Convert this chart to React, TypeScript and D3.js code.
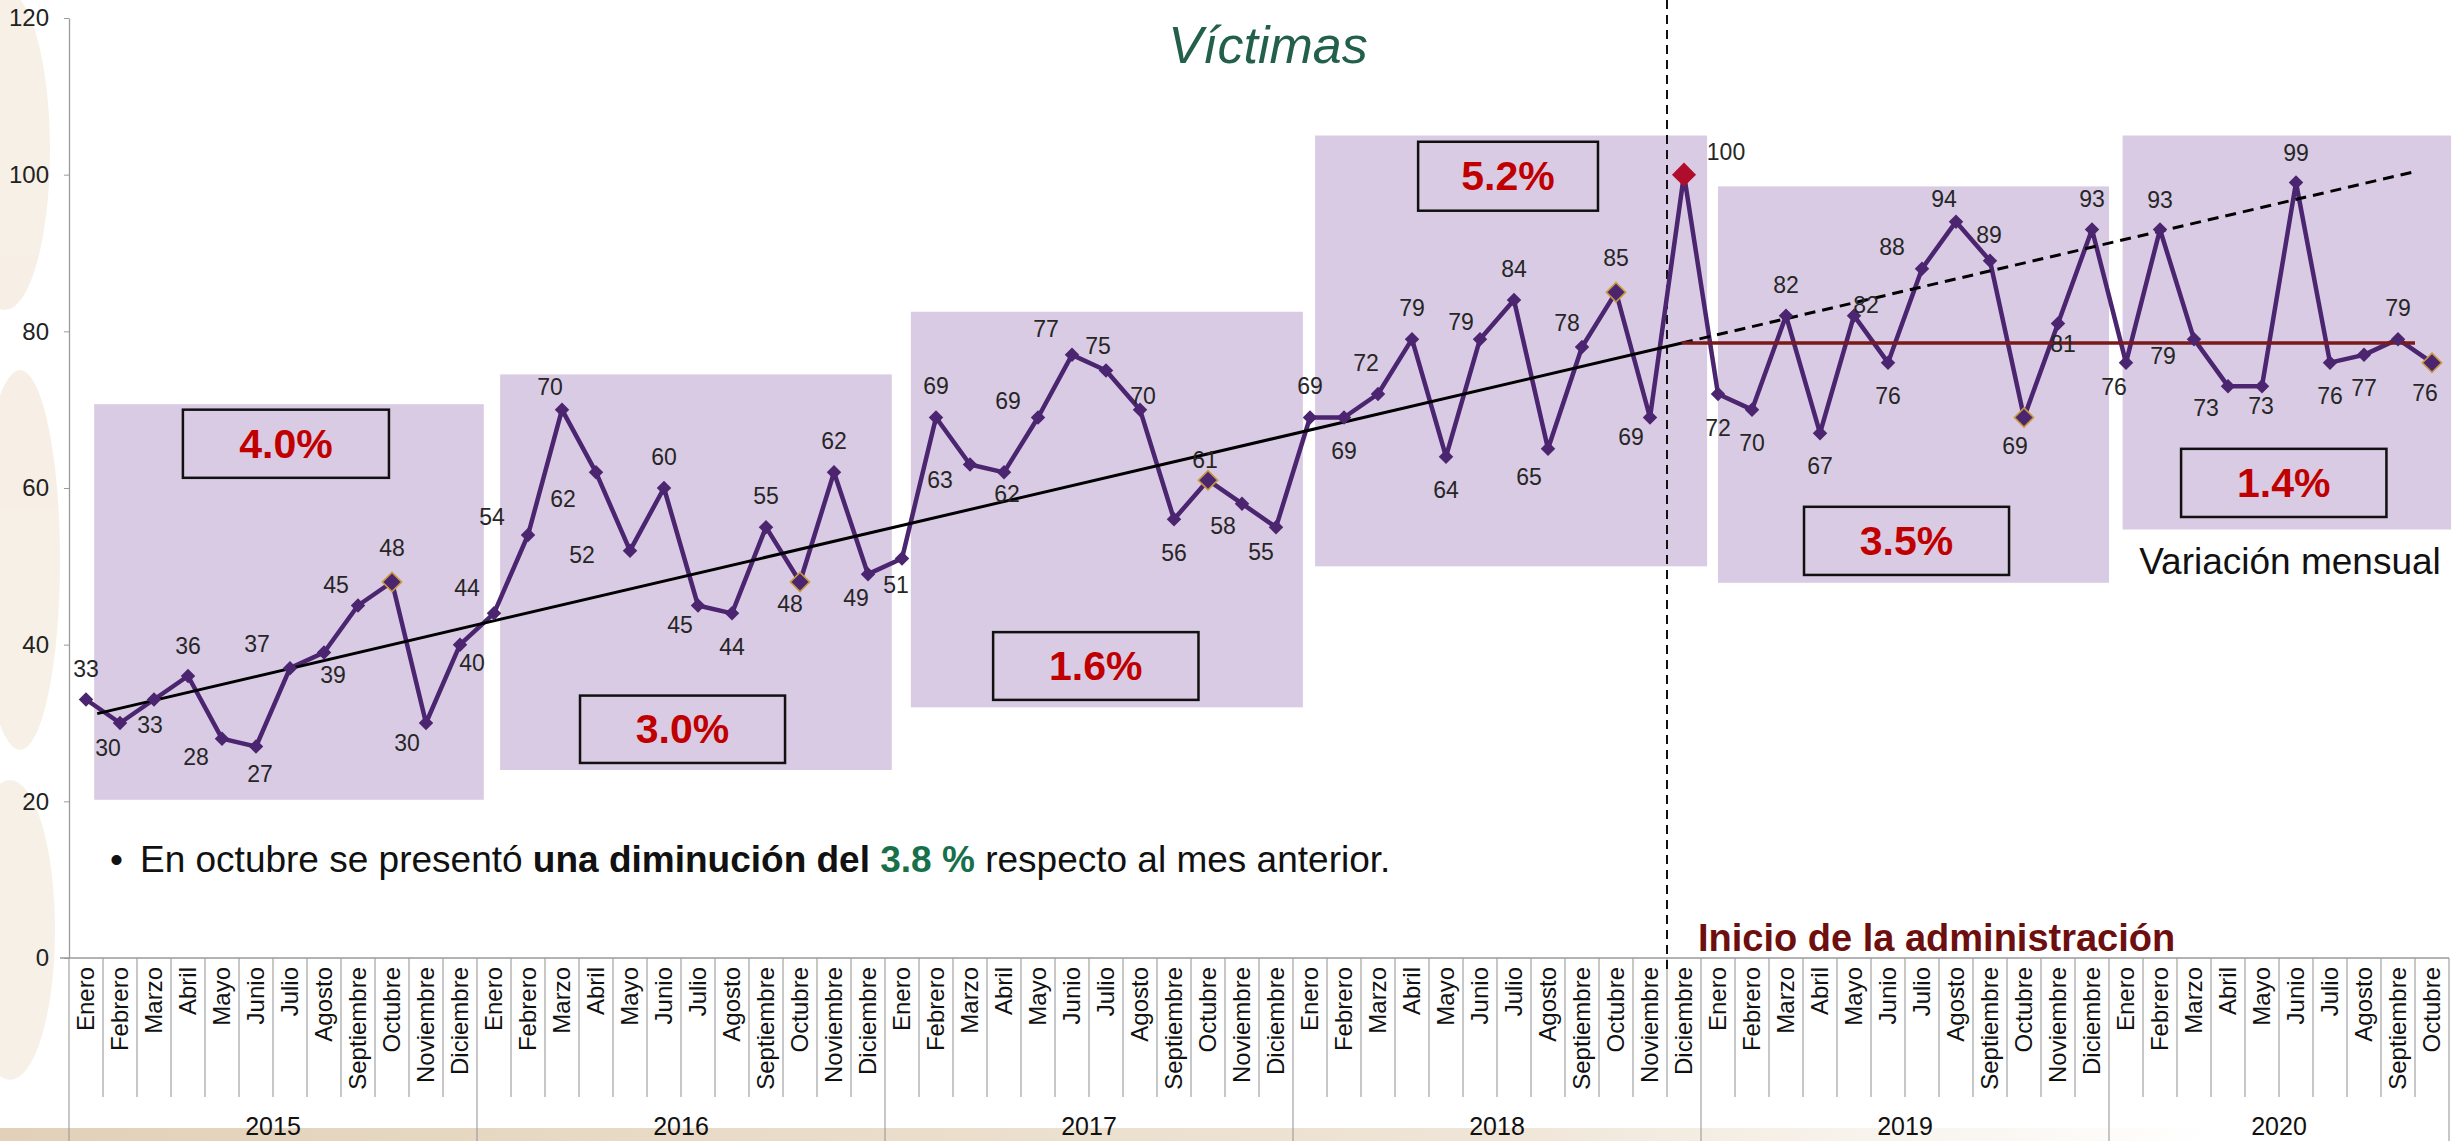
import React, { useEffect, useRef } from 'react';
import * as d3 from 'd3';

const W = 2458;
const H = 1141;
const FONT = 'Liberation Sans, Arial, sans-serif';

const months = ['Enero', 'Febrero', 'Marzo', 'Abril', 'Mayo', 'Junio', 'Julio', 'Agosto', 'Septiembre', 'Octubre', 'Noviembre', 'Diciembre'];
const years = ['2015', '2016', '2017', '2018', '2019', '2020'];

// víctimas por mes
const v2015 = [33, 30, 33, 36, 28, 27, 37, 39, 45, 48, 30, 40];
const v2016 = [44, 54, 70, 62, 52, 60, 45, 44, 55, 48, 62, 49];
const v2017 = [51, 69, 63, 62, 69, 77, 75, 70, 56, 61, 58, 55];
const v2018 = [69, 69, 72, 79, 64, 79, 84, 65, 78, 85, 69, 100];
const v2019 = [72, 70, 82, 67, 82, 76, 88, 94, 89, 69, 81, 93];
const v2020 = [76, 93, 79, 73, 73, 99, 76, 77, 79, 76];
const byYear = [v2015, v2016, v2017, v2018, v2019, v2020];

const yTicks = [0, 20, 40, 60, 80, 100, 120];

// shaded panels behind each year (month position / value units)
const panels = [
  { from: 0.74, to: 12.2, low: 20.2, high: 70.7 },
  { from: 12.68, to: 24.2, low: 24, high: 74.5 },
  { from: 24.76, to: 36.29, low: 32, high: 82.5 },
  { from: 36.65, to: 48.18, low: 50, high: 105 },
  { from: 48.5, to: 60.0, low: 47.9, high: 98.5 },
  { from: 60.4, to: 70.06, low: 54.7, high: 105 },
];

// variación mensual promedio por año
const growth = [
  { text: '4.0%', from: 3.35, to: 9.41, low: 61.3, high: 70.0 },
  { text: '3.0%', from: 15.03, to: 21.06, low: 24.9, high: 33.5 },
  { text: '1.6%', from: 27.18, to: 33.22, low: 32.95, high: 41.6 },
  { text: '5.2%', from: 39.68, to: 44.97, low: 95.4, high: 104.2 },
  { text: '3.5%', from: 51.03, to: 57.06, low: 48.9, high: 57.6 },
  { text: '1.4%', from: 62.12, to: 68.16, low: 56.3, high: 65.0 },
];

// trend (month index units)
const trendStart = 0.33;
const trendBase = 31.2;
const trendSlope = 1.015;
const adminIndex = 46.94;
const trendEnd = 68.5;
const adminBoundary = 47; // month position of the vertical dashed line

// where each value label sits relative to its point [dx, dy]
const labelNudge = [
  [0, -31], [-12, 25], [-4, 25], [0, -30], [-26, 18], [4, 27], [-33, -24], [9, 22], [-22, -21], [0, -34], [-19, 20], [12, 18],
  [-27, -25], [-36, -18], [-12, -23], [-33, 27], [-48, 4], [0, -31], [-18, 19], [0, 34], [0, -31], [-10, 22], [0, -31], [-12, 24],
  [-6, 26], [0, -32], [-30, 15], [3, 22], [-30, -17], [-26, -26], [-8, -25], [3, -14], [0, 34], [-3, -20], [-19, 22], [-15, 25],
  [0, -32], [0, 33], [-12, -31], [0, -31], [0, 33], [-19, -17], [0, -31], [-19, 28], [-15, -24], [0, -34], [-19, 19], [42, -23],
  [0, 34], [0, 33], [0, -31], [0, 33], [12, -11], [0, 33], [-30, -22], [-12, -23], [-1, -26], [-9, 28], [5, 20], [0, -31],
  [-12, 24], [0, -30], [-31, 17], [-22, 22], [-1, 20], [0, -30], [0, 33], [0, 33], [0, -31], [-7, 30],
];

const PURPLE = '#4b256f';

export default function App() {
  const ref = useRef<SVGSVGElement>(null);

  useEffect(() => {
    const svg = d3.select(ref.current);
    svg.selectAll('*').remove();

    const data = byYear.flatMap((vals, yi) =>
      vals.map((v, mi) => ({ year: years[yi], month: months[mi], value: v }))
    );
    const n = data.length;

    const xPos = d3.scaleLinear().domain([0, n]).range([69, 2449]);
    const cx = (i: number) => xPos(i + 0.5);
    const y = d3.scaleLinear().domain([0, 120]).range([958, 18]);

    svg.append('rect').attr('width', W).attr('height', H).attr('fill', '#ffffff');

    // faint watermark on the left edge + bottom band
    const wm = svg.append('g').attr('fill', '#f3e8d8').attr('opacity', 0.65);
    wm.append('ellipse').attr('cx', 5).attr('cy', 150).attr('rx', 45).attr('ry', 160);
    wm.append('ellipse').attr('cx', 20).attr('cy', 560).attr('rx', 40).attr('ry', 190);
    wm.append('ellipse').attr('cx', 10).attr('cy', 930).attr('rx', 45).attr('ry', 150);
    const defs = svg.append('defs');
    const grad = defs.append('linearGradient').attr('id', 'band');
    grad.append('stop').attr('offset', '0%').attr('stop-color', '#e2d1b8');
    grad.append('stop').attr('offset', '60%').attr('stop-color', '#efe5d6');
    grad.append('stop').attr('offset', '90%').attr('stop-color', '#ffffff');
    svg.append('rect').attr('x', 0).attr('y', 1128).attr('width', W).attr('height', 13).attr('fill', 'url(#band)');

    // year panels
    svg.append('g').selectAll('rect').data(panels).enter().append('rect')
      .attr('x', d => xPos(d.from))
      .attr('y', d => y(d.high))
      .attr('width', d => xPos(d.to) - xPos(d.from))
      .attr('height', d => y(d.low) - y(d.high))
      .attr('fill', '#dacbe4');

    // y axis
    const ya = svg.append('g')
      .attr('transform', `translate(${xPos(0)},0)`)
      .call(d3.axisLeft(y).tickValues(yTicks).tickSize(5).tickSizeOuter(0).tickPadding(15));
    ya.select('.domain').attr('stroke', '#9a9a9a').attr('stroke-width', 1.3);
    ya.selectAll('.tick line').attr('stroke', '#9a9a9a');
    ya.selectAll('.tick text').attr('font-family', FONT).attr('font-size', 24).attr('fill', '#222');

    // category axis
    const ax = svg.append('g');
    ax.append('line').attr('x1', 60).attr('x2', xPos(n)).attr('y1', y(0)).attr('y2', y(0))
      .attr('stroke', '#9a9a9a').attr('stroke-width', 1.3);
    ax.selectAll('.sep').data(d3.range(n + 1)).enter().append('line')
      .attr('x1', k => xPos(k)).attr('x2', k => xPos(k))
      .attr('y1', y(0))
      .attr('y2', k => (k % 12 === 0 || k === n ? H : 1097))
      .attr('stroke', '#9a9a9a').attr('stroke-width', 1.1);
    ax.selectAll('.mlab').data(data).enter().append('text')
      .attr('transform', (d, i) => `translate(${cx(i) + 8},967) rotate(-90)`)
      .attr('text-anchor', 'end')
      .attr('font-family', FONT).attr('font-size', 24).attr('fill', '#111')
      .text(d => d.month);
    ax.selectAll('.ylab').data(years).enter().append('text')
      .attr('x', (d, k) => xPos(12 * k + byYear[k].length / 2))
      .attr('y', 1135)
      .attr('text-anchor', 'middle')
      .attr('font-family', FONT).attr('font-size', 25).attr('fill', '#111')
      .text(d => d);

    // administration start
    svg.append('line')
      .attr('x1', xPos(adminBoundary)).attr('x2', xPos(adminBoundary))
      .attr('y1', 0).attr('y2', 975)
      .attr('stroke', '#111').attr('stroke-width', 2).attr('stroke-dasharray', '9,6');

    // series
    const line = d3.line<{ value: number }>().x((d, i) => cx(i)).y(d => y(d.value));
    svg.append('path').datum(data).attr('d', line)
      .attr('fill', 'none').attr('stroke', PURPLE).attr('stroke-width', 4.5).attr('stroke-linejoin', 'round');

    // trend lines
    const trend = (i: number) => trendBase + trendSlope * (i - trendStart);
    svg.append('line')
      .attr('x1', cx(trendStart)).attr('y1', y(trend(trendStart)))
      .attr('x2', cx(adminIndex)).attr('y2', y(trend(adminIndex)))
      .attr('stroke', '#000').attr('stroke-width', 3);
    svg.append('line')
      .attr('x1', cx(adminIndex)).attr('y1', y(trend(adminIndex)))
      .attr('x2', cx(trendEnd)).attr('y2', y(trend(trendEnd)))
      .attr('stroke', '#000').attr('stroke-width', 3).attr('stroke-dasharray', '11,7');
    svg.append('line')
      .attr('x1', cx(adminIndex)).attr('y1', y(trend(adminIndex)))
      .attr('x2', cx(trendEnd)).attr('y2', y(trend(adminIndex)))
      .attr('stroke', '#7a1a1a').attr('stroke-width', 3.5);

    // markers
    const isOct = (d: { month: string }) => d.month === 'Octubre';
    const isPeak = (i: number) => i === n - 23; // Diciembre 2018
    svg.append('g').selectAll('path').data(data).enter().append('path')
      .attr('transform', (d, i) => `translate(${cx(i)},${y(d.value)}) rotate(45)`)
      .attr('d', (d, i) => d3.symbol(d3.symbolSquare, isPeak(i) ? 290 : isOct(d) ? 185 : 105)())
      .attr('fill', (d, i) => (isPeak(i) ? '#b00d2d' : PURPLE))
      .attr('stroke', (d, i) => (!isPeak(i) && isOct(d) ? '#c99a3c' : 'none'))
      .attr('stroke-width', 1.6);

    // value labels
    svg.append('g').selectAll('text').data(data).enter().append('text')
      .attr('x', (d, i) => cx(i) + labelNudge[i][0])
      .attr('y', (d, i) => y(d.value) + labelNudge[i][1] + 8)
      .attr('text-anchor', 'middle')
      .attr('font-family', FONT).attr('font-size', 23).attr('fill', '#262626')
      .text(d => d.value);

    // growth boxes
    const gb = svg.append('g').selectAll('g').data(growth).enter().append('g');
    gb.append('rect')
      .attr('x', d => xPos(d.from)).attr('y', d => y(d.high))
      .attr('width', d => xPos(d.to) - xPos(d.from))
      .attr('height', d => y(d.low) - y(d.high))
      .attr('fill', 'none').attr('stroke', '#111').attr('stroke-width', 2.5);
    gb.append('text')
      .attr('x', d => (xPos(d.from) + xPos(d.to)) / 2)
      .attr('y', d => (y(d.low) + y(d.high)) / 2 + 14)
      .attr('text-anchor', 'middle')
      .attr('font-family', FONT).attr('font-weight', 'bold').attr('font-size', 41).attr('fill', '#c00000')
      .text(d => d.text);

    // texts
    svg.append('text')
      .attr('x', 1268).attr('y', 63).attr('text-anchor', 'middle')
      .attr('font-family', FONT).attr('font-style', 'italic').attr('font-size', 52).attr('fill', '#23604c')
      .text('Víctimas');

    svg.append('text')
      .attr('x', 2290).attr('y', 574).attr('text-anchor', 'middle')
      .attr('font-family', FONT).attr('font-size', 37).attr('fill', '#111')
      .text('Variación mensual');

    svg.append('text')
      .attr('x', 1698).attr('y', 951)
      .attr('font-family', FONT).attr('font-weight', 'bold').attr('font-size', 38).attr('fill', '#6e0f0f')
      .text('Inicio de la administración');

    svg.append('text')
      .attr('x', 110).attr('y', 872)
      .attr('font-family', FONT).attr('font-size', 37).attr('fill', '#111')
      .text('•');
    const bt = svg.append('text')
      .attr('x', 140).attr('y', 872)
      .attr('font-family', FONT).attr('font-size', 37).attr('fill', '#111');
    bt.append('tspan').text('En octubre se presentó ');
    bt.append('tspan').attr('font-weight', 'bold').text('una diminución del ');
    bt.append('tspan').attr('font-weight', 'bold').attr('fill', '#17704a').text('3.8 %');
    bt.append('tspan').text(' respecto al mes anterior.');
  }, []);

  return (
    <svg
      ref={ref}
      width={W}
      height={H}
      style={{ position: 'absolute', left: 0, top: 0, display: 'block' }}
    />
  );
}
